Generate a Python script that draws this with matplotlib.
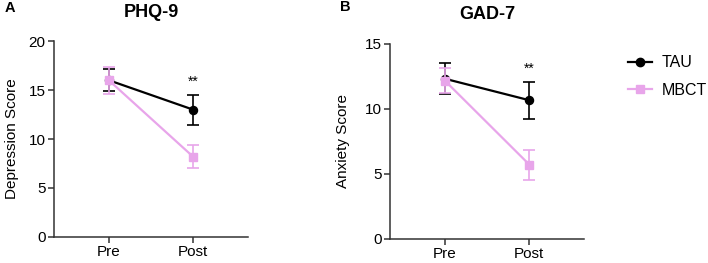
import matplotlib
matplotlib.use("Agg")
import matplotlib.pyplot as plt
from matplotlib.lines import Line2D

plt.rcParams['font.family'] = ['Liberation Sans', 'DejaVu Sans']

timepoints = ["Pre", "Post"]
groups = ["TAU", "MBCT"]

phq_tau = [16.0, 13.0]
phq_tau_err_lo = [1.1, 1.55]
phq_tau_err_hi = [1.1, 1.45]
phq_mbct = [16.0, 8.2]
phq_mbct_err_lo = [1.45, 1.15]
phq_mbct_err_hi = [1.35, 1.15]

gad_tau = [12.3, 10.65]
gad_tau_err_lo = [1.2, 1.45]
gad_tau_err_hi = [1.2, 1.4]
gad_mbct = [12.15, 5.7]
gad_mbct_err_lo = [0.95, 1.15]
gad_mbct_err_hi = [0.95, 1.1]

tau_color = "black"
mbct_color = "#E8A5EA"

fig = plt.figure(figsize=(7.08, 2.63), dpi=100)
axA = fig.add_axes([0.0763, 0.0989, 0.350 - 0.0763, 0.844 - 0.0989])
axB = fig.add_axes([0.551, 0.0924, 0.825 - 0.551, 0.834 - 0.0924])

def panel(ax, tau, tlo, thi, mb, mlo, mhi, ylim, yticks, ylabel, label_x, title,
          letter, lx, ly, star_y):
    x = list(range(len(timepoints)))
    ax.errorbar(x, tau, yerr=[tlo, thi], color=tau_color, marker='o', markersize=5.8,
                linewidth=1.6, elinewidth=1.2, capsize=4.5, capthick=1.2, zorder=3)
    ax.errorbar(x, mb, yerr=[mlo, mhi], color=mbct_color, marker='s', markersize=5.8,
                linewidth=1.6, elinewidth=1.2, capsize=4.5, capthick=1.2, zorder=4)
    ax.set_xlim(-0.65, 1.65)
    ax.set_ylim(*ylim)
    ax.set_yticks(yticks)
    ax.set_xticks(x)
    ax.set_xticklabels(timepoints)
    ax.spines['top'].set_visible(False)
    ax.spines['right'].set_visible(False)
    for s in ['left', 'bottom']:
        ax.spines[s].set_color('#333333')
        ax.spines[s].set_linewidth(1.1)
    ax.tick_params(axis='both', labelsize=11, length=4, width=1.1, color='#333333', pad=2)
    ax.set_ylabel(ylabel, fontsize=11)
    ax.yaxis.set_label_coords(label_x, 0.5)
    ax.set_title(title, fontsize=13, fontweight='bold', pad=17.5)
    ax.text(1, star_y, "**", ha='center', va='center', fontsize=10)
    fig.text(lx, ly, letter, fontsize=10.5, fontweight='bold', ha='left', va='center')
    ax.patch.set_alpha(0)

panel(axA, phq_tau, phq_tau_err_lo, phq_tau_err_hi, phq_mbct, phq_mbct_err_lo, phq_mbct_err_hi,
      (0, 20), [0, 5, 10, 15, 20], "Depression Score", -0.18, "PHQ-9", "A", 0.007, 0.968, 15.8)
panel(axB, gad_tau, gad_tau_err_lo, gad_tau_err_hi, gad_mbct, gad_mbct_err_lo, gad_mbct_err_hi,
      (0, 15), [0, 5, 10, 15], "Anxiety Score", -0.206, "GAD-7", "B", 0.48, 0.972, 13.1)

handles = [Line2D([], [], color=tau_color, marker='o', markersize=6, linewidth=1.6),
           Line2D([], [], color=mbct_color, marker='s', markersize=6, linewidth=1.6)]
fig.legend(handles, groups, loc='upper left', bbox_to_anchor=(628 / 708, 0.789), frameon=False,
           fontsize=11.5, handlelength=1.5, labelspacing=0.78, handletextpad=0.6,
           borderpad=0, borderaxespad=0)

fig.savefig("out.png", dpi=100)
